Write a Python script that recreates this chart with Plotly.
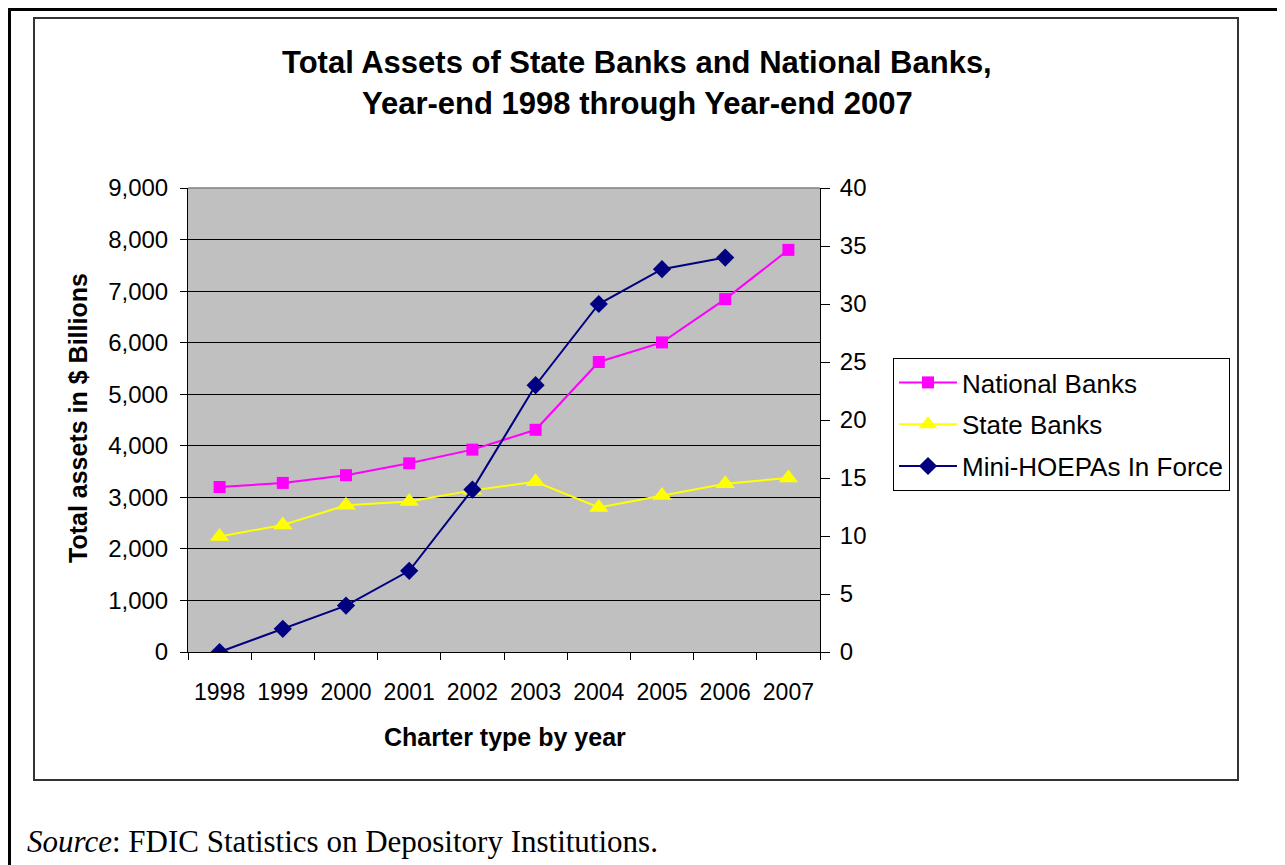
import plotly.graph_objects as go

# ---- data ----
years = ["1998", "1999", "2000", "2001", "2002", "2003", "2004", "2005", "2006", "2007"]
national_banks = [3200, 3280, 3430, 3660, 3925, 4310, 5625, 6005, 6845, 7800]
state_banks = [2240, 2465, 2845, 2920, 3135, 3300, 2805, 3035, 3265, 3375]
mini_hoepas = [0, 2, 4, 7, 14, 23, 30, 33, 34]  # no value for 2007
left_ticks = list(range(0, 9001, 1000))
right_ticks = list(range(0, 41, 5))

OFF = 8  # browser body margin
W, H = 1285 - OFF, 865 - OFF
PL, PR, PT, PB = 188, 820, 188, 652  # plot area in screen pixels


def px(x):
    return (x - PL) / (PR - PL)


def py(y):
    return (PB - y) / (PB - PT)


FONT = "Liberation Sans, Arial, sans-serif"

fig = go.Figure()
fig.add_trace(go.Scatter(
    x=years, y=national_banks, name="National Banks", mode="lines+markers",
    line=dict(color="#FF00FF", width=2),
    marker=dict(symbol="square", size=12, color="#FF00FF"),
    legendgroup="a", yaxis="y"))
fig.add_trace(go.Scatter(
    x=years, y=state_banks, name="State Banks", mode="lines+markers",
    line=dict(color="#FFFF00", width=2),
    marker=dict(symbol="triangle-up", size=17, color="#FFFF00"),
    legendgroup="b", yaxis="y"))
fig.add_trace(go.Scatter(
    x=years[:len(mini_hoepas)], y=mini_hoepas, name="Mini-HOEPAs In Force",
    mode="lines+markers",
    line=dict(color="#000080", width=2),
    marker=dict(symbol="diamond", size=14, color="#000080"),
    legendgroup="c", yaxis="y2"))

shapes = [
    # outer page frame
    dict(type="rect", xref="paper", yref="paper", x0=px(9.5), x1=px(1320), y0=py(9.5), y1=py(920),
         line=dict(color="black", width=3), layer="below"),
    # chart area frame
    dict(type="rect", xref="paper", yref="paper", x0=px(34), x1=px(1238), y0=py(18), y1=py(780),
         line=dict(color="#333333", width=2), layer="below"),
    # top border of plot area
    dict(type="line", xref="paper", yref="paper", x0=0, x1=1, y0=1, y1=1,
         line=dict(color="#808080", width=1.5)),
]

annotations = [
    dict(text="<b>Total Assets of State Banks and National Banks,</b>", xref="paper", yref="paper",
         x=px(637), y=py(62), xanchor="center", yanchor="middle", showarrow=False,
         font=dict(family=FONT, size=31, color="black")),
    dict(text="<b>Year-end 1998 through Year-end 2007</b>", xref="paper", yref="paper",
         x=px(637), y=py(103), xanchor="center", yanchor="middle", showarrow=False,
         font=dict(family=FONT, size=31, color="black")),
    dict(text="<i>Source</i>: FDIC Statistics on Depository Institutions.", xref="paper", yref="paper",
         x=px(25), y=py(841), xanchor="left", yanchor="middle", showarrow=False,
         font=dict(family="Liberation Serif, Times New Roman, serif", size=31, color="black")),
    dict(text="<b>Total assets in $ Billions</b>", xref="paper", yref="paper",
         x=px(78), y=py(418), xanchor="center", yanchor="middle", showarrow=False, textangle=-90,
         font=dict(family=FONT, size=25, color="black")),
    dict(text="<b>Charter type by year</b>", xref="paper", yref="paper",
         x=px(505), y=py(737), xanchor="center", yanchor="middle", showarrow=False,
         font=dict(family=FONT, size=25, color="black")),
]

fig.update_layout(
    width=W, height=H,
    margin=dict(l=PL - OFF, r=W - (PR - OFF), t=PT - OFF, b=H - (PB - OFF), pad=0),
    paper_bgcolor="white", plot_bgcolor="#C0C0C0",
    font=dict(family=FONT, color="black"),
    showlegend=True,
    legend=dict(x=px(893), y=py(358), xanchor="left", yanchor="top",
                bordercolor="black", borderwidth=1, bgcolor="white",
                font=dict(family=FONT, size=26, color="black"),
                tracegroupgap=5, traceorder="grouped", itemwidth=58),
    xaxis=dict(type="category", categoryorder="array", categoryarray=years,
               range=[-0.5, len(years) - 0.5], tickson="boundaries",
               ticks="outside", ticklen=7, tickcolor="black", tickwidth=1,
               showline=True, linecolor="black", linewidth=1, showgrid=False,
               tickfont=dict(family=FONT, size=23, color="black"), ticklabelstandoff=19),
    yaxis=dict(range=[0, 9000], tickvals=left_ticks, tickformat=",d",
               ticks="outside", ticklen=7, tickcolor="black",
               showline=True, linecolor="black", linewidth=1,
               showgrid=True, gridcolor="black", gridwidth=1, zeroline=False,
               tickfont=dict(family=FONT, size=24, color="black"), ticklabelstandoff=7),
    yaxis2=dict(range=[0, 40], tickvals=right_ticks, overlaying="y", side="right",
                ticks="outside", ticklen=9, tickcolor="black",
                showline=True, linecolor="black", linewidth=1,
                showgrid=False, zeroline=False,
                tickfont=dict(family=FONT, size=24, color="black"), ticklabelstandoff=5),
    yaxis3=dict(range=[0, 40], tickvals=right_ticks, overlaying="y", side="right",
                ticks="inside", ticklen=8, tickcolor="black", showticklabels=False,
                showline=False, showgrid=False, zeroline=False),
    shapes=shapes,
    annotations=annotations,
)

fig.write_html("out.html")
